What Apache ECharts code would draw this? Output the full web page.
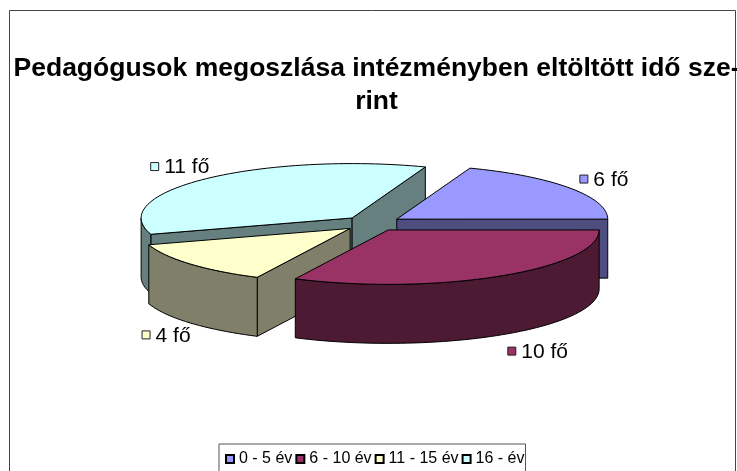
<!DOCTYPE html>
<html><head><meta charset="utf-8">
<script src="https://cdn.jsdelivr.net/npm/echarts@6/dist/echarts.min.js"></script>
<style>html,body{margin:0;padding:0;background:#fff}#c{width:737px;height:471px}</style>
</head><body><div id="c"></div>
<script>
const categories = ['0 - 5 év', '6 - 10 év', '11 - 15 év', '16 - év'];
const values = [6, 10, 4, 11];
const labels = ['6 fő', '10 fő', '4 fő', '11 fő'];
const unitTitle = 'Pedagógusok megoszlása intézményben eltöltött idő sze-\nrint';

const topColors = ['#9999FF', '#993366', '#FFFFCC', '#CCFFFF'];
const sideColors = ['#4D4D80', '#4D1A33', '#80806A', '#668080'];
const paintOrder = [3, 0, 2, 1];
const labelOffsets = [[10, -13], [8, 71], [-48, 67], [-56, -16]];

const geo = {cx: 372.5, cy: 223.5, rx: 211, ry: 54.4, depth: 59, explode: 0.14, startDeg: -69.7};
const total = values.reduce((a, b) => a + b, 0);
const rad = d => d * Math.PI / 180;

function sliceAngles(i) {
  let a = geo.startDeg;
  for (let k = 0; k < i; k++) a += values[k] / total * 360;
  return [a, a + values[i] / total * 360];
}
function renderSlice(i) {
  const [a0, a1] = sliceAngles(i);
  const mid = (a0 + a1) / 2;
  const ax = geo.cx + geo.explode * geo.rx * Math.cos(rad(mid));
  const ay = geo.cy + geo.explode * geo.ry * Math.sin(rad(mid));
  const pt = (d, dz) => [ax + geo.rx * Math.cos(rad(d)), ay + geo.ry * Math.sin(rad(d)) + (dz || 0)];
  const stroke = {stroke: '#000', lineWidth: 1, lineJoin: 'round'};
  const arc = (from, to, dz) => {
    const out = [];
    const n = Math.max(2, Math.ceil(Math.abs(to - from) / 2));
    for (let s = 0; s <= n; s++) out.push(pt(from + (to - from) * s / n, dz));
    return out;
  };
  const children = [];
  const face = d => ({type: 'polygon', shape: {points: [[ax, ay], pt(d), pt(d, geo.depth), [ax, ay + geo.depth]]},
    style: Object.assign({fill: sideColors[i]}, stroke)});
  if (Math.sin(rad(a0 - 90)) > 0) children.push(face(a0));
  if (Math.cos(rad(a1)) > 0) children.push(face(a1));
  const f0 = Math.max(a0, 0), f1 = Math.min(a1, 180);
  if (f1 > f0) {
    children.push({type: 'polygon', shape: {points: arc(f0, f1, 0).concat(arc(f1, f0, geo.depth))},
      style: Object.assign({fill: sideColors[i]}, stroke)});
  }
  children.push({type: 'polygon', shape: {points: [[ax, ay]].concat(arc(a0, a1, 0))},
    style: Object.assign({fill: topColors[i]}, stroke)});
  const rim = pt(mid);
  const lx = rim[0] + labelOffsets[i][0], ly = rim[1] + labelOffsets[i][1];
  children.push({type: 'rect', shape: {x: lx, y: ly, width: 8, height: 8},
    style: {fill: topColors[i], stroke: '#222', lineWidth: 1}});
  children.push({type: 'text', style: {x: lx + 13.5, y: ly + 5, text: labels[i], fill: '#000',
    font: '21px "Liberation Sans", Arial, sans-serif', verticalAlign: 'middle', textAlign: 'left'}});
  return {type: 'group', children};
}

const series = paintOrder.map(i => ({
  type: 'custom', name: categories[i], coordinateSystem: 'none', silent: true,
  itemStyle: {color: topColors[i], borderColor: '#000', borderWidth: 1},
  data: [values[i]],
  renderItem: () => renderSlice(i)
}));

const chart = echarts.init(document.getElementById('c'), null, {renderer: 'canvas'});
chart.setOption({
  animation: false,
  backgroundColor: '#fff',
  title: {text: unitTitle, left: 371.5, top: 47, textAlign: 'center',
    textStyle: {fontFamily: '"Liberation Sans", Arial, sans-serif', fontWeight: 'bold', fontSize: 26.5, lineHeight: 33, color: '#000'}},
  legend: {data: categories, left: 219, top: 444, orient: 'horizontal', icon: 'rect', itemWidth: 8, itemHeight: 8, itemGap: 3,
    padding: [7, 1, 20, 6], borderColor: '#555', borderWidth: 1, backgroundColor: '#fff', selectedMode: false,
    textStyle: {fontFamily: '"Liberation Sans", Arial, sans-serif', fontSize: 16, color: '#000', padding: [0, 0, 0, 0]}},
  graphic: [{type: 'polyline', silent: true, z: -1, shape: {points: [[9.5, 471], [9.5, 10.5], [735.5, 10.5], [735.5, 471]]},
    style: {stroke: '#444', lineWidth: 1, fill: null}}],
  series
});
</script></body></html>
